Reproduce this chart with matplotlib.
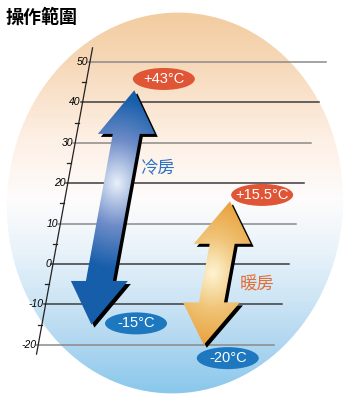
import numpy as np
import matplotlib
matplotlib.use("Agg")
import matplotlib.pyplot as plt
from matplotlib.patches import Ellipse, Polygon
from matplotlib.transforms import Affine2D, IdentityTransform

# data
title = "操作範圍"
modes = ["冷房", "暖房"]
mode_low = [-15, -20]
mode_high = [43, 15.5]
ticks = [-20, -10, 0, 10, 20, 30, 40, 50]
minor_ticks = [-15, -5, 5, 15, 25, 35, 45]

# layout (pixels, degrees)
W, H = 360, 400
PX_PER_DEG = 4.04
ZERO_ROW = 264          # pixel row of 0 degrees
SKEW = 0.739            # horizontal shift in px per degree (slanted scale)
AXIS_COL = 53
LINE_END_COL = 289
AXIS_TOP, AXIS_BOTTOM = 53.5, -22.3
line_colors = ["#8a8a8a", "#3c3c3c", "#3c3c3c", "#8a8a8a", "#3c3c3c", "#8a8a8a", "#3c3c3c", "#8a8a8a"]

arrow_cols = [102.5, 218.5]
shaft_hw = [13.5, 12.5]
head_hw = [28.5, 28.5]
head_len = [10.8, 10.5]
high_offsets = [(27.5, 2.8), (31, 1.6)]
low_offsets = [(44.4, 0.3), (26.5, -3.3)]
name_offsets = [(38, 9.8), (42, -2.9)]
name_colors = ["#2f73c2", "#e0703a"]
high_color = "#e05536"
low_color = "#1e78c0"

# gradient definitions (pixel rows / colours)
bg_rows = [10, 62, 140, 200, 250, 300, 345, 395]
bg_cols = [(243, 203, 158), (246, 216, 184), (253, 240, 229), (253, 252, 252),
           (233, 243, 250), (205, 229, 245), (175, 214, 240), (135, 199, 235)]
arrow_hi = [(117, 183), (213, 273)]
arrow_radius = [86, 72]
arrow_light = [(232, 240, 250), (254, 244, 210)]
arrow_mid = [(110, 140, 200), (240, 196, 120)]
arrow_dark = [(22, 94, 170), (234, 162, 62)]


def arrow_verts(col, lo, hi, sw, hw, hl):
    return [(col, hi), (col + hw, hi - hl), (col + sw, hi - hl), (col + sw, lo + hl),
            (col + hw, lo + hl), (col, lo), (col - hw, lo + hl), (col - sw, lo + hl),
            (col - sw, hi - hl), (col - hw, hi - hl)]


def main():
    fig = plt.figure(figsize=(W / 100, H / 100), dpi=100)
    ax = fig.add_axes([0, 0, 1, 1])
    v_top = ZERO_ROW / PX_PER_DEG
    v_bot = (ZERO_ROW - H) / PX_PER_DEG
    extent = (0, W, v_bot, v_top)
    ax.axis("off")

    shear = Affine2D.from_values(1, 0, SKEW, 1, 0, 0) + ax.transData

    # background oval with vertical gradient
    rows = np.arange(H) + 0.5
    bg = np.zeros((H, W, 3))
    for c in range(3):
        bg[:, :, c] = np.interp(rows, bg_rows, [b[c] for b in bg_cols])[:, None] / 255
    oval = Ellipse((175, H - 203), 336, 381, angle=-4, transform=IdentityTransform())
    im = ax.imshow(bg, extent=extent, aspect="auto", origin="upper", zorder=0)
    im.set_clip_path(oval)

    # slanted scale
    for v, col in zip(ticks, line_colors):
        ax.plot([AXIS_COL - 2, LINE_END_COL], [v, v], color=col, lw=1.1, transform=shear, zorder=1)
        ax.text(AXIS_COL - 2, v, str(v), ha="right", va="center", fontsize=7.5,
                style="italic", family="Liberation Sans", transform=shear, zorder=1)
    for v in minor_ticks:
        ax.plot([AXIS_COL - 4, AXIS_COL], [v, v], color="#222222", lw=0.9, transform=shear, zorder=1)
    ax.plot([AXIS_COL, AXIS_COL], [AXIS_BOTTOM, AXIS_TOP], color="#222222", lw=0.9,
            transform=shear, zorder=1)

    # arrows
    yy, xx = np.mgrid[0:H, 0:W] + 0.5
    for i in range(len(modes)):
        verts = arrow_verts(arrow_cols[i], mode_low[i], mode_high[i], shaft_hw[i], head_hw[i], head_len[i])
        shadow = Polygon(verts, closed=True, fc="black", ec="none",
                         transform=shear + Affine2D().translate(3, -3), zorder=2)
        ax.add_patch(shadow)
        body = Polygon(verts, closed=True, fc="none", ec="none", transform=shear)
        ax.add_patch(body)

        cx, cy = arrow_hi[i]
        d = np.sqrt(((xx - cx) / 0.8) ** 2 + (yy - cy) ** 2) / arrow_radius[i]
        t = np.clip(d, 0, 1)
        light = np.array(arrow_light[i]) / 255
        mid = np.array(arrow_mid[i]) / 255
        dark = np.array(arrow_dark[i]) / 255
        t1 = np.clip(t / 0.5, 0, 1)[..., None]
        t2 = np.clip((t - 0.5) / 0.5, 0, 1)[..., None]
        grad = np.where(t[..., None] < 0.5, light + (mid - light) * t1, mid + (dark - mid) * t2)
        aim = ax.imshow(grad, extent=extent, aspect="auto", origin="upper", zorder=3)
        aim.set_clip_path(body)

        # end labels
        for val, (dx, dv), fc in [(mode_high[i], high_offsets[i], high_color),
                                  (mode_low[i], low_offsets[i], low_color)]:
            px, py = shear.transform((arrow_cols[i] + dx, val + dv))
            ax.add_patch(Ellipse((px, py), 62, 22, fc=fc, ec="none",
                                 transform=IdentityTransform(), zorder=4))
            ax.text(arrow_cols[i] + dx, val + dv, f"{val:+g}°C", ha="center", va="center",
                    color="white", fontsize=10.5, family="Liberation Sans", transform=shear, zorder=5)

        dx, dv = name_offsets[i]
        ax.text(arrow_cols[i] + dx, (mode_low[i] + mode_high[i]) / 2 + dv, modes[i],
                ha="center", va="center", color=name_colors[i], fontsize=12.5,
                family=["Noto Sans CJK TC", "DejaVu Sans"], transform=shear, zorder=5)

    ax.set_xlim(0, W)
    ax.set_ylim(v_bot, v_top)

    fig.text(6 / W, 1 - 17.5 / H, title, ha="left", va="center", fontsize=13,
             fontweight="bold", family=["Noto Sans CJK TC", "DejaVu Sans"])
    fig.savefig("out.png", dpi=100, facecolor="white")


if __name__ == "__main__":
    main()
